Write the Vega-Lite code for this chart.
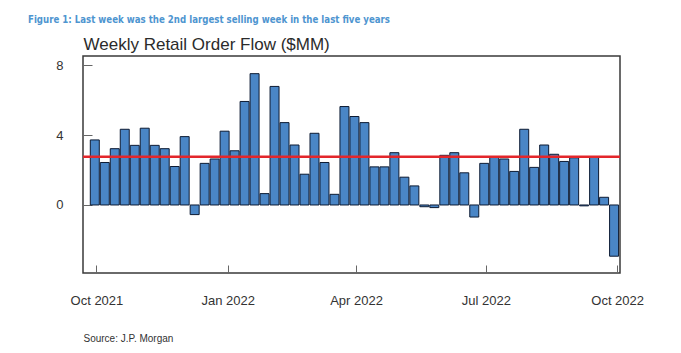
{
  "$schema": "https://vega.github.io/schema/vega-lite/v6.json",
  "width": 537,
  "height": 217,
  "autosize": "none",
  "padding": {"left": 83, "top": 56, "right": 61, "bottom": 80},
  "background": "white",
  "config": {
    "view": {"stroke": "#3a3a3a", "strokeWidth": 1.5},
    "font": "Liberation Sans"
  },
  "title": {
    "text": "Figure 1: Last week was the 2nd largest selling week in the last five years",
    "anchor": "start",
    "frame": "group",
    "dx": -55,
    "offset": 10,
    "font": "DejaVu Sans Condensed, Liberation Sans Narrow, Liberation Sans, sans-serif",
    "fontSize": 9.6,
    "fontWeight": "bold",
    "color": "#4e95d0"
  },
  "layer": [
    {
      "data": {
        "values": [
          {"week": "2021-10-01", "flow": 3.72},
          {"week": "2021-10-08", "flow": 2.43},
          {"week": "2021-10-15", "flow": 3.22},
          {"week": "2021-10-22", "flow": 4.33},
          {"week": "2021-10-29", "flow": 3.41},
          {"week": "2021-11-05", "flow": 4.39},
          {"week": "2021-11-12", "flow": 3.41},
          {"week": "2021-11-19", "flow": 3.22},
          {"week": "2021-11-26", "flow": 2.2},
          {"week": "2021-12-03", "flow": 3.91},
          {"week": "2021-12-10", "flow": -0.55},
          {"week": "2021-12-17", "flow": 2.38},
          {"week": "2021-12-24", "flow": 2.63},
          {"week": "2021-12-31", "flow": 4.22},
          {"week": "2022-01-07", "flow": 3.1},
          {"week": "2022-01-14", "flow": 5.92},
          {"week": "2022-01-21", "flow": 7.51},
          {"week": "2022-01-28", "flow": 0.65},
          {"week": "2022-02-04", "flow": 6.78},
          {"week": "2022-02-11", "flow": 4.71},
          {"week": "2022-02-18", "flow": 3.43},
          {"week": "2022-02-25", "flow": 1.76},
          {"week": "2022-03-04", "flow": 4.1},
          {"week": "2022-03-11", "flow": 2.43},
          {"week": "2022-03-18", "flow": 0.61},
          {"week": "2022-03-25", "flow": 5.63},
          {"week": "2022-04-01", "flow": 5.06},
          {"week": "2022-04-08", "flow": 4.71},
          {"week": "2022-04-15", "flow": 2.18},
          {"week": "2022-04-22", "flow": 2.18},
          {"week": "2022-04-29", "flow": 2.99},
          {"week": "2022-05-06", "flow": 1.59},
          {"week": "2022-05-13", "flow": 1.09},
          {"week": "2022-05-20", "flow": -0.1},
          {"week": "2022-05-27", "flow": -0.15},
          {"week": "2022-06-03", "flow": 2.84},
          {"week": "2022-06-10", "flow": 2.99},
          {"week": "2022-06-17", "flow": 1.84},
          {"week": "2022-06-24", "flow": -0.69},
          {"week": "2022-07-01", "flow": 2.38},
          {"week": "2022-07-08", "flow": 2.72},
          {"week": "2022-07-15", "flow": 2.63},
          {"week": "2022-07-22", "flow": 1.92},
          {"week": "2022-07-29", "flow": 4.33},
          {"week": "2022-08-05", "flow": 2.15},
          {"week": "2022-08-12", "flow": 3.43},
          {"week": "2022-08-19", "flow": 2.9},
          {"week": "2022-08-26", "flow": 2.49},
          {"week": "2022-09-02", "flow": 2.7},
          {"week": "2022-09-09", "flow": -0.05},
          {"week": "2022-09-16", "flow": 2.76},
          {"week": "2022-09-23", "flow": 0.44},
          {"week": "2022-09-30", "flow": -2.93}
        ]
      },
      "mark": {"type": "bar", "fill": "#4a86c6", "stroke": "#0d1b33", "strokeWidth": 1},
      "encoding": {
        "x": {
          "field": "week",
          "type": "temporal",
          "timeUnit": "utcyearweek",
          "scale": {
            "domain": [
              {"year": 2021, "month": 9, "date": 21, "hours": 14, "utc": true},
              {"year": 2022, "month": 10, "date": 3, "utc": true}
            ]
          },
          "axis": {
            "values": [
              {"year": 2021, "month": 10, "date": 1, "utc": true},
              {"year": 2022, "month": 1, "date": 1, "utc": true},
              {"year": 2022, "month": 4, "date": 1, "utc": true},
              {"year": 2022, "month": 7, "date": 1, "utc": true},
              {"year": 2022, "month": 10, "date": 1, "utc": true}
            ],
            "labelExpr": "utcFormat(datum.value, '%b %Y')",
            "labelFontSize": 13,
            "labelColor": "#333333",
            "labelFlush": false,
            "labelPadding": 29,
            "tickSize": -8,
            "tickColor": "#666666",
            "domain": false,
            "grid": false,
            "title": "Source: J.P. Morgan",
            "titleFontSize": 10,
            "titleFontWeight": "normal",
            "titleColor": "#333333",
            "titleAnchor": "start",
            "titleAlign": "left",
            "titlePadding": 26
          }
        },
        "y": {
          "field": "flow",
          "type": "quantitative",
          "scale": {"domain": [-3.89, 8.52], "nice": false, "zero": false},
          "axis": {
            "values": [0, 4, 8],
            "labelFontSize": 13,
            "labelColor": "#333333",
            "labelPadding": 29,
            "tickSize": -9,
            "tickColor": "#666666",
            "domain": false,
            "grid": false,
            "title": "Weekly Retail Order Flow ($MM)",
            "titleAngle": 0,
            "titleX": 0,
            "titleY": -7,
            "titleAlign": "left",
            "titleBaseline": "alphabetic",
            "titleFontSize": 17,
            "titleFontWeight": "normal",
            "titleColor": "#2b2b2b"
          }
        }
      }
    },
    {
      "data": {"values": [{"average": 2.76}]},
      "mark": {"type": "rule", "color": "#e3262b", "strokeWidth": 2.5},
      "encoding": {
        "y": {"field": "average", "type": "quantitative", "scale": {"domain": [-3.89, 8.52], "nice": false, "zero": false}}
      }
    }
  ]
}
